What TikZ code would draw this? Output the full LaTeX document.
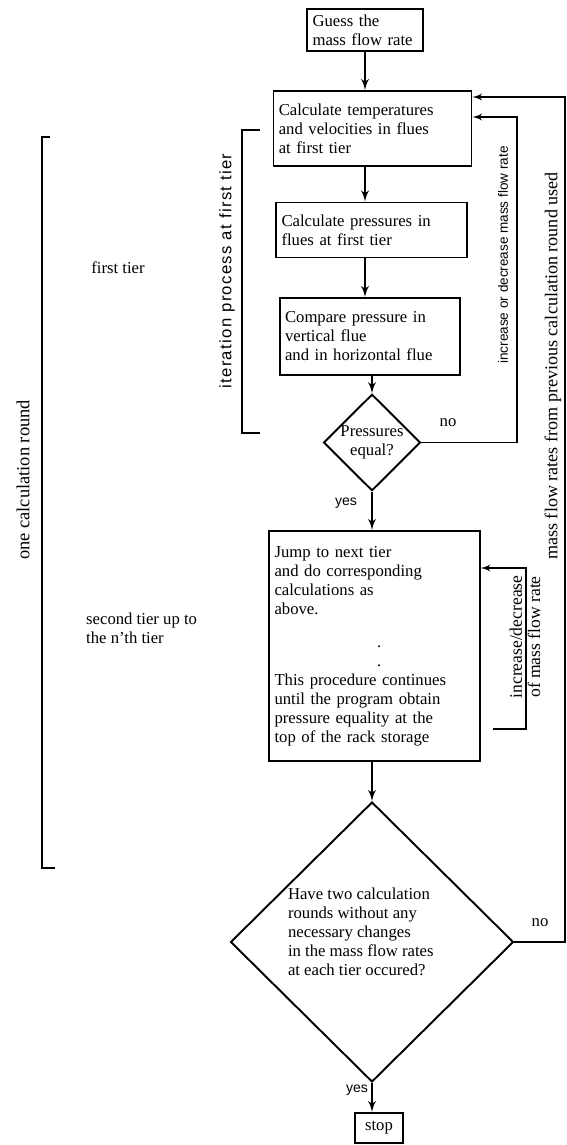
\documentclass[tikz,border=0pt]{standalone}
\usepackage{fontspec}
\setmainfont{Liberation Serif}
\setsansfont{Liberation Sans}
\usetikzlibrary{arrows,shapes.geometric}

\begin{document}
\begin{tikzpicture}[x=0.02cm,y=-0.02cm]
		\tikzset{box/.style = {shape=rectangle,draw,line width=1.1pt,align=left,inner sep=3pt,font=\fontsize{9.5}{10.8}\selectfont}}
		\tikzset{decision/.style = {shape=diamond,draw,line width=1.1pt,inner sep=0pt,font=\fontsize{9.5}{10.8}\selectfont}}
		\tikzset{flow/.style = {->,> = latex',line width=1.2pt}}
		\tikzset{loop/.style = {->,> = latex',line width=0.9pt}}
		\tikzset{label/.style = {font=\fontsize{9.5}{10.8}\selectfont}}
		\tikzset{sidelabel/.style = {font=\sffamily\fontsize{9}{10.8}\selectfont,rotate=90}}
		\useasboundingbox (0,0) rectangle (566,1145);
		% main column
		\node[box,text width=2.1cm,minimum height=0.82cm] (guess) at (365,30) {Guess the\\mass flow rate};
		\node[box,text width=3.75cm,minimum height=1.5cm] (calc) at (372.5,128.5) {Calculate temperatures\\and velocities in flues\\at first tier};
		\node[box,text width=3.6cm,minimum height=1.1cm] (press) at (371.5,230) {Calculate pressures in\\flues at first tier};
		\node[box,text width=3.4cm,minimum height=1.54cm] (comp) at (370,336.5) {Compare pressure in\\vertical flue\\and in horizontal flue};
		\node[decision,minimum width=1.94cm,minimum height=1.9cm,align=center] (peq) at (372,442.5) {Pressures\\equal?};
		\node[box,text width=4cm,minimum height=4.6cm] (jump) at (374.5,646) {Jump to next tier\\and do corresponding\\calculations as\\above.\\[8pt]\hspace*{2.05cm}.\\\hspace*{2.05cm}.\\This procedure continues\\until the program obtain\\pressure equality at the\\top of the rack storage};
		\node[decision,minimum width=5.66cm,minimum height=5.6cm,align=left] (rounds) at (372,942) {\raisebox{0.12cm}[0pt][0pt]{\parbox{3.2cm}{\hspace*{-0.08cm}Have two calculation\\\hspace*{-0.08cm}rounds without any\\\hspace*{-0.08cm}necessary changes\\\hspace*{-0.08cm}in the mass flow rates\\\hspace*{-0.08cm}at each tier occured?}}};
		\node[box,inner sep=2pt,minimum width=0.96cm,minimum height=0.6cm,align=center] (stop) at (379,1128) {stop};
		\draw[flow] (guess.south) -- (guess.south |- calc.north);
		\draw[flow] (calc.south -| 365,0) -- (press.north -| 365,0);
		\draw[flow] (press.south -| 365,0) -- (comp.north -| 365,0);
		\draw[flow] (comp.south -| peq.north) -- (peq.north);
		\draw[flow] (peq.south) -- (peq.south |- jump.north);
		\draw[flow] (jump.south -| rounds.north) -- (rounds.north);
		\draw[flow] (rounds.south) -- (rounds.south |- stop.north);
		\node[label,font=\sffamily\fontsize{8}{9}\selectfont] (yes1) at (346,503) {yes};
		\node[label,font=\sffamily\fontsize{8}{9}\selectfont] (yes2) at (357,1090) {yes};
		\node[label] (no1) at (448,423) {no};
		\node[label] (no2) at (540,923) {no};
		% loops back
		\draw[loop] (peq.east) -- (517,442.5) |- (calc.east |- 0,117);
		\coordinate (jloop) at (493,729);
		\draw[loop] (jloop) -- (526,729) |- (jump.east |- 0,568);
		\draw[loop] (rounds.east) -- (565,942) |- (calc.east |- 0,97);
		\node[sidelabel,font=\sffamily\fontsize{7.7}{9}\selectfont] (incdec) at (503,255) {increase or decrease mass flow rate};
		\node[label,rotate=90,font=\fontsize{10.3}{12}\selectfont] (prev) at (553,366) {mass flow rates from previous calculation round used};
		\node[sidelabel,align=center,font=\fontsize{10}{10.5}\selectfont] (incdec2) at (525,637) {increase/decrease\\of mass flow rate};
		% brackets
		\draw[line width=0.8pt] (260,130) -- (242,130) -- (242,433) -- (260,433);
		\draw[line width=0.9pt] (50,137) -- (42,137) -- (42,868) -- (55,868);
		\node[sidelabel,font=\sffamily\fontsize{9.5}{10.8}\addfontfeatures{LetterSpace=8}\selectfont] (iter) at (227,271) {iteration process at first tier};
		\node[label,rotate=90,font=\fontsize{10.5}{12}\selectfont] (round) at (23,480) {one calculation round};
		\node[label] (first) at (118,268) {first tier};
		\node[label,anchor=west,align=left] (second) at (80,628) {second tier up to\\the n'th tier};
	\end{tikzpicture}
\end{document}
